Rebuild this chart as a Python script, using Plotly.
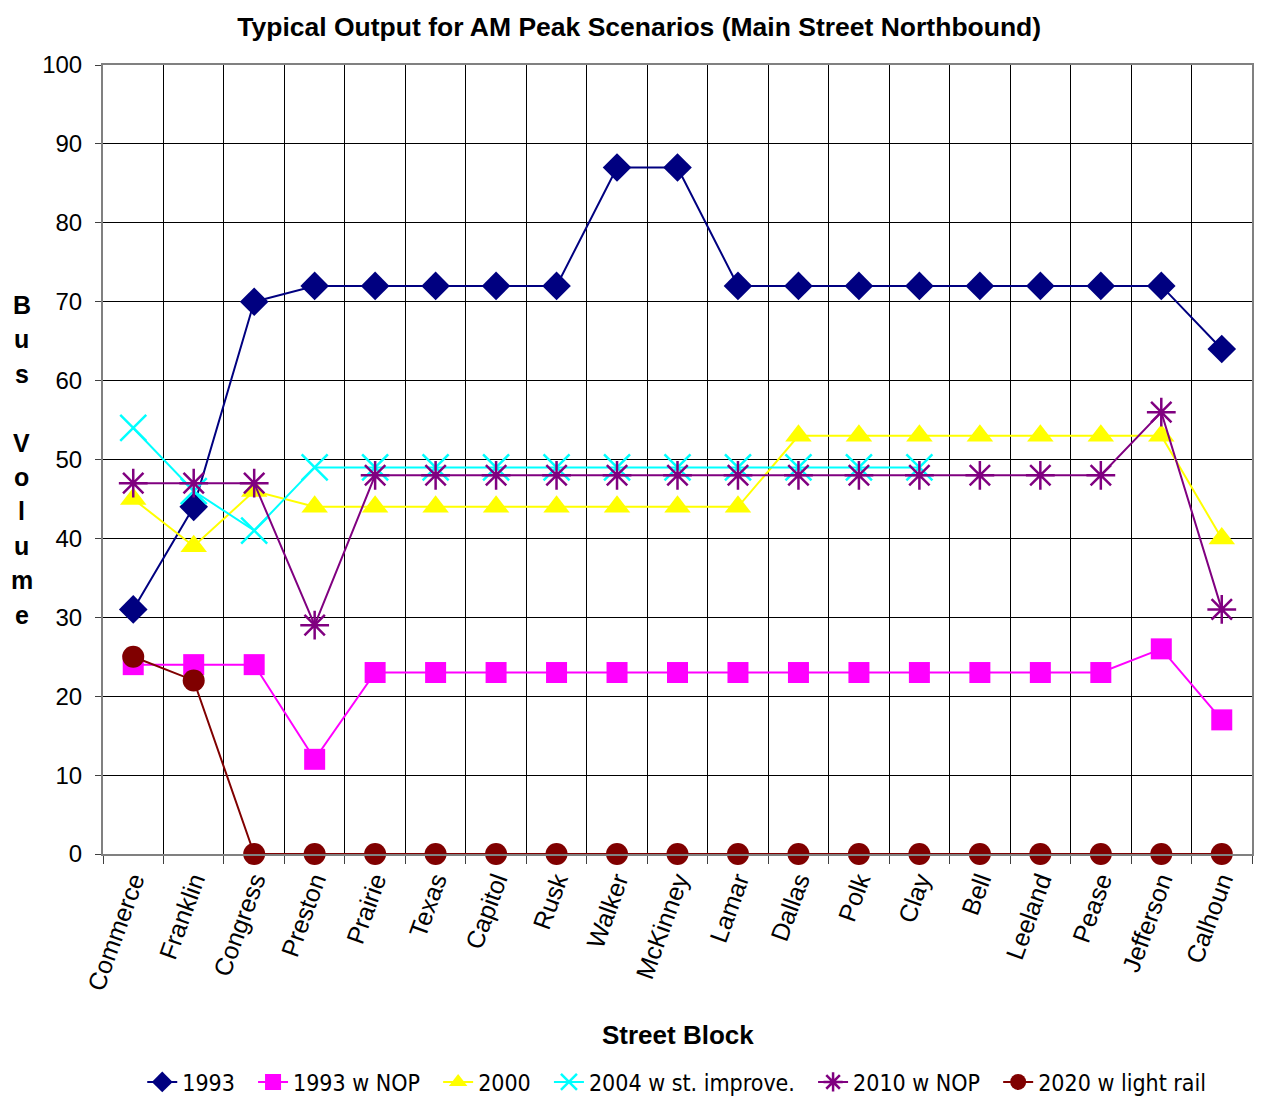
import plotly.graph_objects as go

blocks = ['Commerce', 'Franklin', 'Congress', 'Preston', 'Prairie', 'Texas', 'Capitol',
          'Rusk', 'Walker', 'McKinney', 'Lamar', 'Dallas', 'Polk', 'Clay', 'Bell',
          'Leeland', 'Pease', 'Jefferson', 'Calhoun']

v1993 = [31, 44, 70, 72, 72, 72, 72, 72, 87, 87, 72, 72, 72, 72, 72, 72, 72, 72, 64]
v1993_nop = [24, 24, 24, 12, 23, 23, 23, 23, 23, 23, 23, 23, 23, 23, 23, 23, 23, 26, 17]
v2000 = [45, 39, 46, 44, 44, 44, 44, 44, 44, 44, 44, 53, 53, 53, 53, 53, 53, 53, 40]
v2004 = [54, 46, 41, 49, 49, 49, 49, 49, 49, 49, 49, 49, 49, 49, None, None, None, None, None]
v2010_nop = [47, 47, 47, 29, 48, 48, 48, 48, 48, 48, 48, 48, 48, 48, 48, 48, 48, 56, 31]
v2020_rail = [25, 22, 0, 0, 0, 0, 0, 0, 0, 0, 0, 0, 0, 0, 0, 0, 0, 0, 0]

series = [
    ('1993', v1993, '#000080', dict(symbol='diamond', size=22)),
    ('1993 w NOP', v1993_nop, '#FF00FF', dict(symbol='square', size=21)),
    ('2000', v2000, '#FFFF00', dict(symbol='triangle-up', size=23)),
    ('2004 w st. improve.', v2004, '#00FFFF', dict(symbol='x-thin-open', size=26, line=dict(width=2.5))),
    ('2010 w NOP', v2010_nop, '#800080', dict(symbol='asterisk-open', size=24, line=dict(width=2.5))),
    ('2020 w light rail', v2020_rail, '#800000', dict(symbol='circle', size=22)),
]

ytitle = 'Bus Volume'

fig = go.Figure()
for name, vals, color, mk in series:
    mk = dict(mk, color=color)
    if 'line' in mk:
        mk['line'] = dict(mk['line'], color=color)
    # a little trailing space spreads the legend out like the original
    fig.add_trace(go.Scatter(x=blocks, y=vals, name=name + '\u00a0' * 2, mode='lines+markers',
                             line=dict(color=color, width=2), marker=mk,
                             connectgaps=False, cliponaxis=False))

# page body has an 8px margin, so the figure is a little smaller than the window
H_PLOT = 789
annots = [
    dict(text='<b>Street Block</b>', xref='paper', yref='paper', x=0.5, y=(854 - 1035) / H_PLOT,
         showarrow=False, font=dict(size=26), xanchor='center', yanchor='middle'),
]
for i, ch in enumerate(ytitle):
    if ch == ' ':
        continue
    annots.append(dict(text='<b>%s</b>' % ch, xref='paper', yref='paper',
                       x=-0.0705, y=(854 - (305 + 34.4 * i)) / H_PLOT, showarrow=False,
                       font=dict(size=25), xanchor='center', yanchor='middle'))

fig.update_layout(
    width=1270, height=1093,
    margin=dict(l=95, r=26, t=57, b=247, autoexpand=False),
    plot_bgcolor='white', paper_bgcolor='white',
    font=dict(family='Liberation Sans, Arial', size=24, color='black'),
    title=dict(text='<b>Typical Output for AM Peak Scenarios (Main Street Northbound)</b>',
               x=0.497, xanchor='center', y=0.983, yanchor='middle',
               font=dict(size=26.5)),
    showlegend=True,
    legend=dict(orientation='h', x=0.505, xanchor='center', y=(854 - 1082) / H_PLOT, yanchor='middle',
                font=dict(family='DejaVu Sans Condensed, Liberation Sans', size=23),
                tracegroupgap=0, bgcolor='rgba(0,0,0,0)'),
    annotations=annots,
)

fig.update_xaxes(
    type='category', tickson='boundaries', showgrid=True, gridcolor='#000000', gridwidth=1,
    ticks='outside', ticklen=8, tickcolor='#404040', tickangle=-70,
    showline=True, linecolor='#808080', linewidth=2, mirror=True,
    tickfont=dict(size=25), range=[-0.5, 18.5], automargin=False,
)
fig.update_yaxes(
    range=[0, 100], dtick=10, showgrid=True, gridcolor='#000000', gridwidth=1,
    ticks='outside', ticklen=6, tickcolor='#404040', ticklabelstandoff=8,
    showline=True, linecolor='#808080', linewidth=2, mirror=True,
    tickfont=dict(size=24), zeroline=False, automargin=False,
)

fig.write_html("out.html")
